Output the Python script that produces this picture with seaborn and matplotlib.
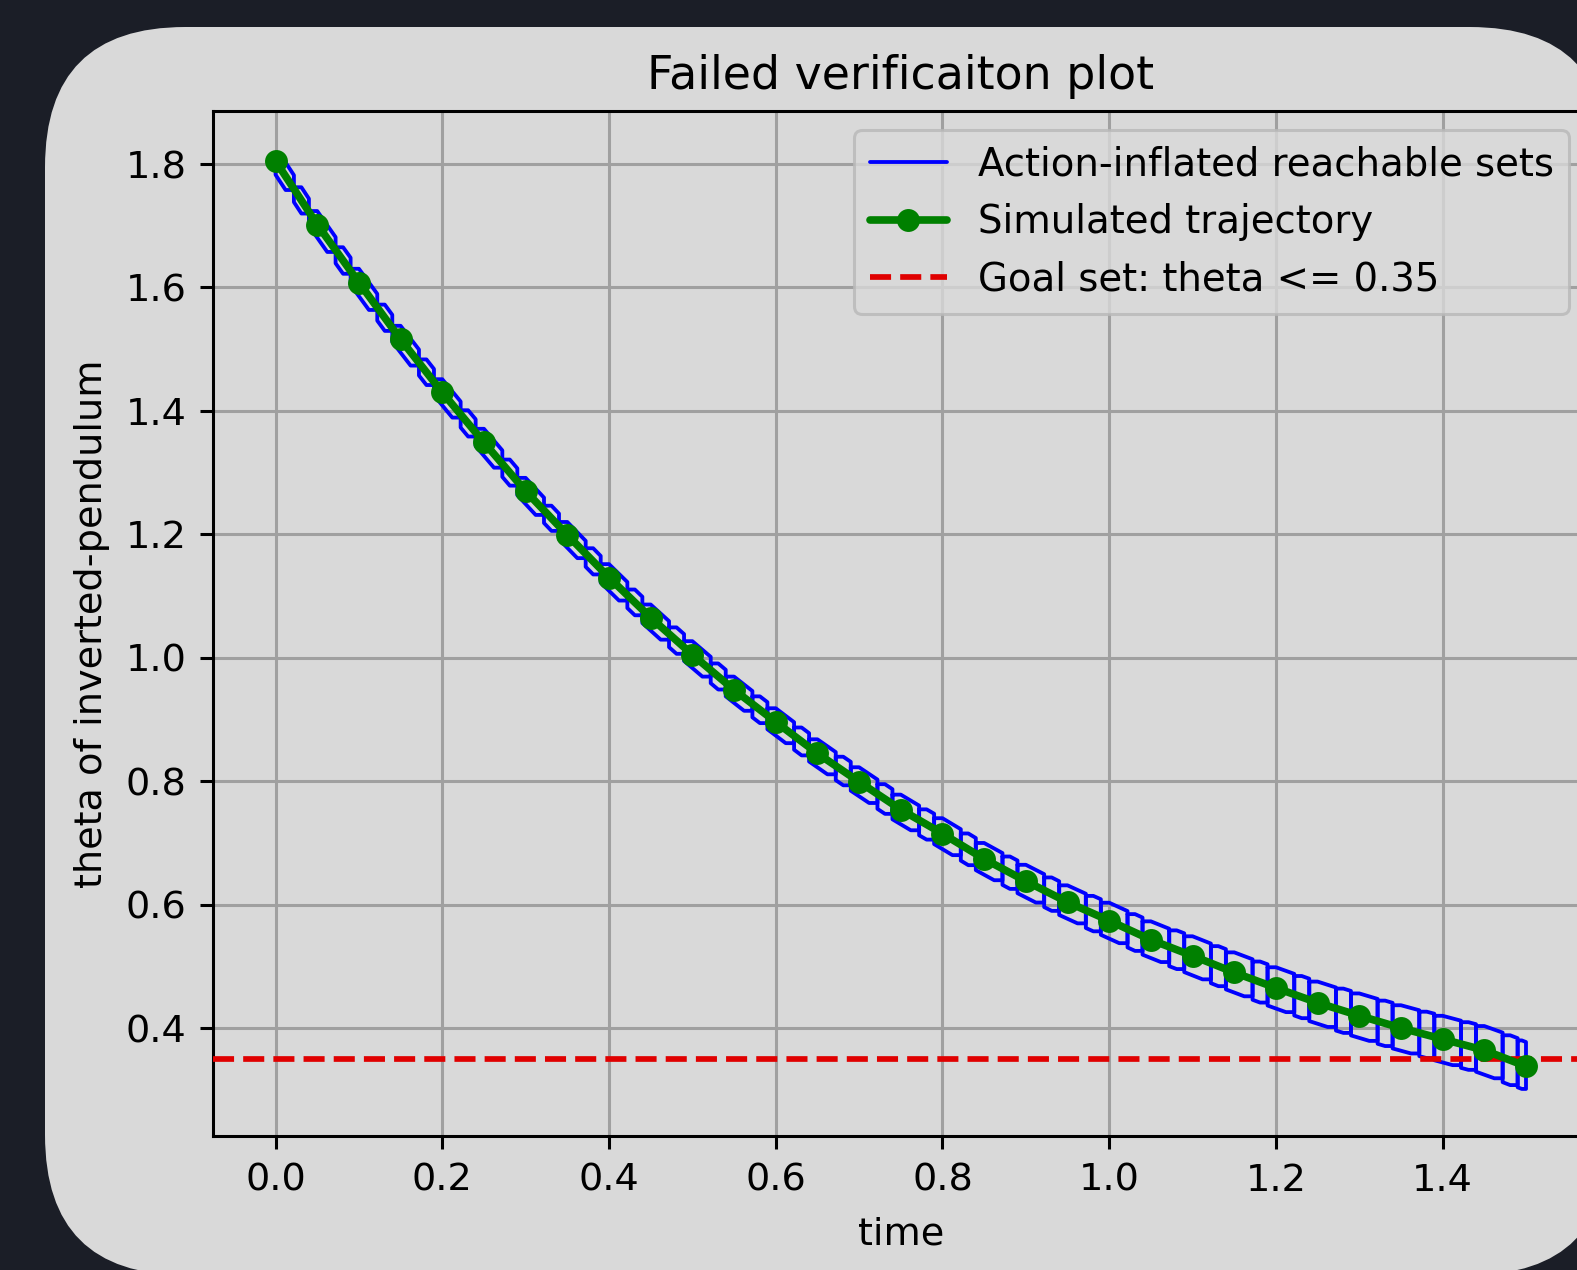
import numpy as np
import pandas as pd
import seaborn as sns
from matplotlib import pyplot as plt
from matplotlib.patches import FancyBboxPatch
from matplotlib.transforms import IdentityTransform

'''

Data read off the reference

'''
time = [0.00, 0.05, 0.10, 0.15, 0.20, 0.25, 0.30, 0.35, 0.40, 0.45,
        0.50, 0.55, 0.60, 0.65, 0.70, 0.75, 0.80, 0.85, 0.90, 0.95,
        1.00, 1.05, 1.10, 1.15, 1.20, 1.25, 1.30, 1.35, 1.40, 1.45, 1.50]
theta = [1.805, 1.702, 1.608, 1.516, 1.430, 1.349, 1.270, 1.199, 1.130, 1.065,
         1.005, 0.948, 0.896, 0.845, 0.799, 0.754, 0.715, 0.674, 0.638, 0.604,
         0.574, 0.543, 0.517, 0.490, 0.465, 0.441, 0.420, 0.400, 0.382, 0.364, 0.338]
# half height of the reachable set cells at each step
half_width = [0.012, 0.012, 0.013, 0.013, 0.013, 0.014, 0.014, 0.014, 0.015, 0.015,
              0.016, 0.016, 0.017, 0.018, 0.019, 0.020, 0.021, 0.022, 0.023, 0.024,
              0.026, 0.027, 0.029, 0.030, 0.031, 0.032, 0.034, 0.035, 0.036, 0.037, 0.038]
goal = 0.35

traj = pd.DataFrame({'time': time, 'theta': theta})

'''

Figure

'''
sns.set_style('ticks')
plt.rcParams['font.family'] = ['DejaVu Sans']
for key in ['text.color', 'axes.labelcolor', 'xtick.color', 'ytick.color']:
    plt.rcParams[key] = 'black'

fig = plt.figure(figsize=(15.77, 12.70), dpi=100)
fig.patch.set_facecolor('#1b1e27')

# rounded light panel behind the plot (pixel coords)
panel = FancyBboxPatch((45, -5), 1565, 1248,
                       boxstyle='round,pad=0,rounding_size=140',
                       transform=IdentityTransform(),
                       facecolor='#d9d9d9', edgecolor='none', zorder=0)
fig.add_artist(panel)

ax = fig.add_axes([0.1351, 0.1055, 0.8722, 0.8071])
ax.set_facecolor('#d9d9d9')

# reachable set cells: two hexagonal cells per step
t_end = time[-1]
edges = []
for t in time:
    edges += [max(t - 0.01, 0.0), min(t + 0.022, t_end)]
edges = sorted(set(edges + [t_end]))
flat = 0.005
first = True
for x0, x1 in zip(edges[:-1], edges[1:]):
    xc = (x0 + x1) / 2
    a = min(flat, (x1 - x0) / 4)
    b = (x1 - x0) / 2 - a
    yc = np.interp(xc, time, theta)
    d = (np.interp(xc - b, time, theta) - np.interp(xc + b, time, theta)) / 2
    k = int(np.argmin(np.abs(np.array(time) - xc)))
    h = half_width[k]
    xs = [-a - b, a - b, a + b, a + b, b - a, -a - b, -a - b]
    ys = [d + h, d + h, h - d, -h - d, -h - d, d - h, d + h]
    ax.plot([xc + v for v in xs], [yc + v for v in ys], color='blue', lw=2.75,
            zorder=2, label='Action-inflated reachable sets' if first else None)
    first = False

sns.lineplot(data=traj, x='time', y='theta', color='green', marker='o',
             markersize=16.5, markeredgewidth=0, linewidth=5.5,
             label='Simulated trajectory', ax=ax, zorder=4)

ax.axhline(goal, color='#e00000', ls='--', lw=4.1, zorder=3,
           label='Goal set: theta <= 0.35')

ax.set_xlim(-0.075, 1.575)
ax.set_ylim(0.225, 1.886)
ax.set_xticks([0.0, 0.2, 0.4, 0.6, 0.8, 1.0, 1.2, 1.4])
ax.set_yticks([0.4, 0.6, 0.8, 1.0, 1.2, 1.4, 1.6, 1.8])
ax.grid(True, color='#a0a0a0', lw=2.2)
ax.set_axisbelow(True)
ax.tick_params(labelsize=27.5, length=9.6, width=2.2, pad=9.6)
for s in ax.spines.values():
    s.set_linewidth(2.2)
    s.set_color('black')

ax.set_title('Failed verificaiton plot', fontsize=33, pad=16)
ax.set_xlabel('time', fontsize=27.5, labelpad=13)
ax.set_ylabel('theta of inverted-pendulum', fontsize=27.5, labelpad=11)

leg = ax.legend(loc='upper right', fontsize=27.8, facecolor='#d9d9d9',
                edgecolor='#b8b8b8', framealpha=0.8, fancybox=True)
leg.get_frame().set_linewidth(2.2)

plt.savefig('out.png', dpi=100, facecolor=fig.get_facecolor())
plt.close()
